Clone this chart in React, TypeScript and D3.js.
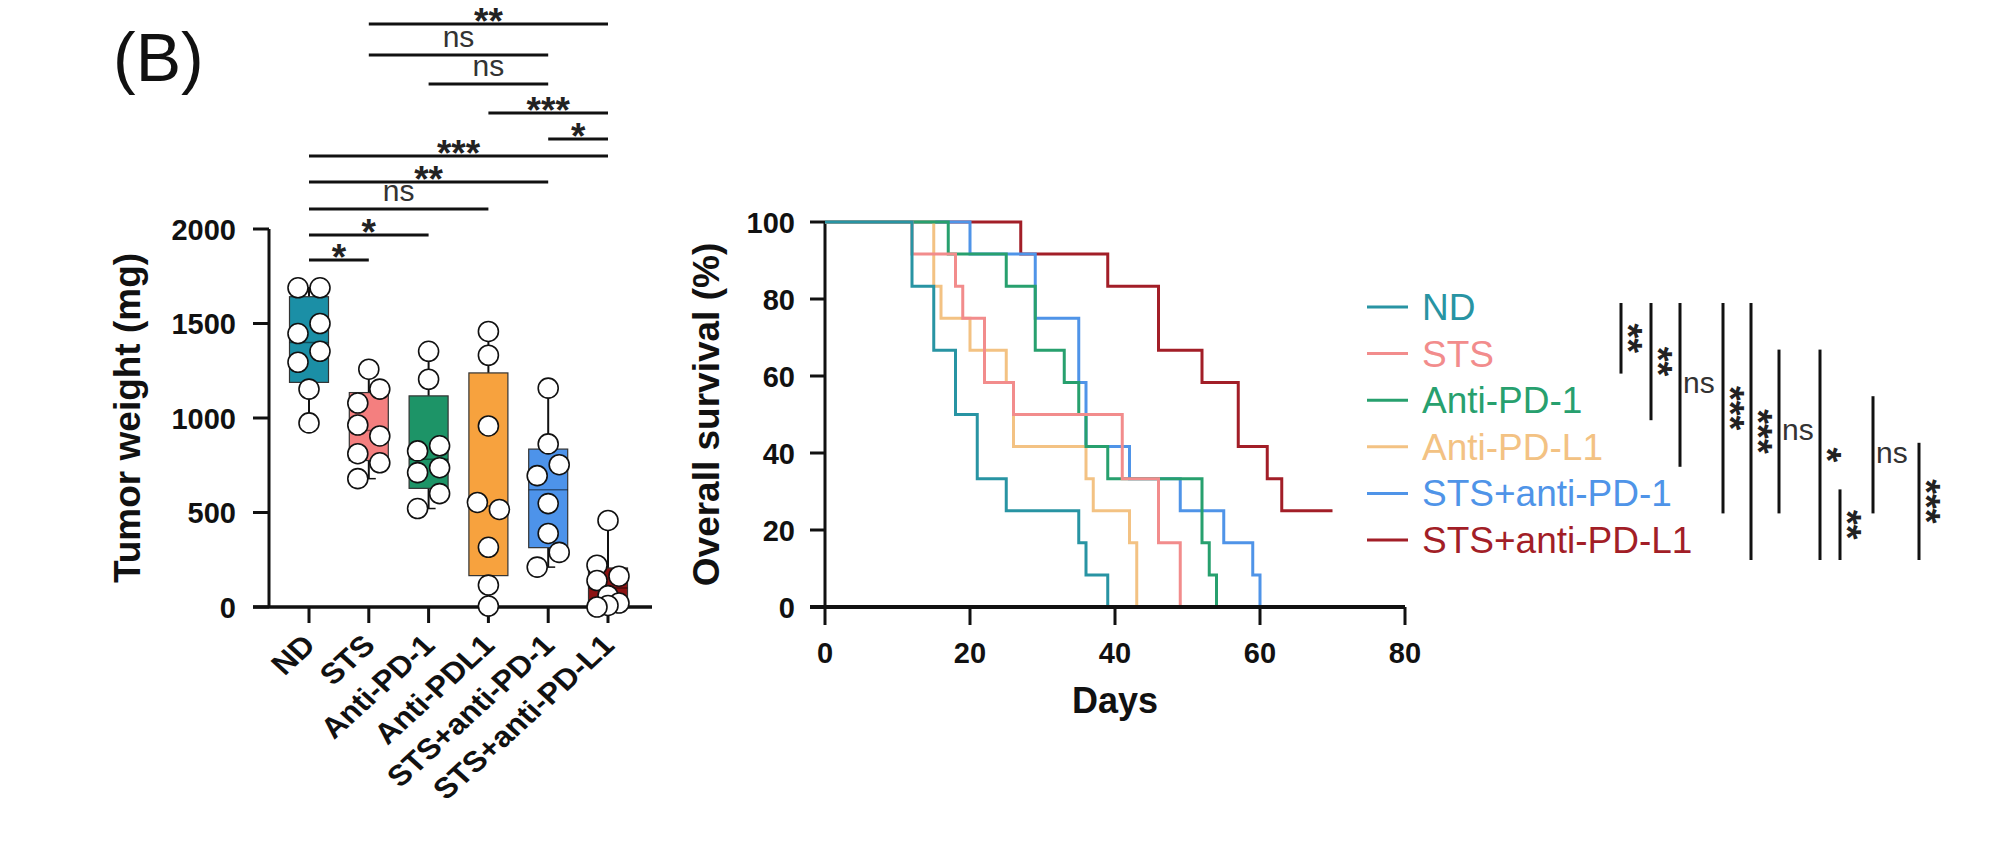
import * as d3 from 'd3'

const FONT = '"Liberation Sans", Arial, Helvetica, sans-serif'

// ---------- tumour weight panel ----------
const groups = ['ND', 'STS', 'Anti-PD-1', 'Anti-PDL1', 'STS+anti-PD-1', 'STS+anti-PD-L1']
const boxColors = ['#1b8fa6', '#f47f7f', '#1d9467', '#f7a23e', '#4d93ea', '#8c1313']

// tumour weight per mouse (mg)
const wND = [1689, 1689, 1500, 1447, 1353, 1295, 1153, 974]
const wSTS = [1258, 1153, 1079, 963, 905, 811, 763, 679]
const wPD1 = [1353, 1205, 853, 826, 737, 711, 600, 521]
const wPDL1 = [1458, 1332, 958, 553, 516, 316, 116, 5]
const wSTSPD1 = [1158, 863, 753, 695, 547, 389, 289, 211]
const wSTSPDL1 = [458, 221, 163, 140, 60, 21, 8, 0]
const weights = [wND, wSTS, wPD1, wPDL1, wSTSPD1, wSTSPDL1]

// which side of the box each dot was put on (-1 left, 0 centre, 1 right)
const dotSides = [
  [-1, 1, 1, -1, 1, -1, 0, 0],
  [0, 1, -1, -1, 1, -1, 1, -1],
  [0, 0, 1, -1, 1, -1, 1, -1],
  [0, 0, 0, -1, 1, 0, 0, 0],
  [0, 0, 1, -1, 0, 0, 1, -1],
  [0, -1, 1, -1, 0, 1, 0, -1],
]

const weightTicks = [0, 500, 1000, 1500, 2000]

// pairwise comparisons drawn above the boxes, top to bottom
const weightTests: [number, number, string][] = [
  [1, 5, '**'], [1, 4, 'ns'], [2, 4, 'ns'], [3, 5, '***'], [4, 5, '*'],
  [0, 5, '***'], [0, 4, '**'], [0, 3, 'ns'], [0, 2, '*'], [0, 1, '*'],
]
const weightTestY = [24, 55, 84, 113, 139, 156, 182, 209, 235, 260]

// ---------- survival panel ----------
const survNames = ['ND', 'STS', 'Anti-PD-1', 'Anti-PD-L1', 'STS+anti-PD-1', 'STS+anti-PD-L1']
const survColors = ['#2894a3', '#f28c8c', '#27a06e', '#f3c283', '#4f94e8', '#a21e27']

const ndDays = [0, 12, 15, 18, 21, 25, 35, 36, 39]
const ndSurv = [100, 83.3, 66.7, 50, 33.3, 25, 16.7, 8.3, 0]
const stsDays = [0, 12, 18, 19, 22, 26, 41, 46, 49]
const stsSurv = [100, 91.7, 83.3, 75, 58.3, 50, 33.3, 16.7, 0]
const pd1Days = [0, 17, 25, 29, 33, 35, 36, 39, 52, 53, 54]
const pd1Surv = [100, 91.7, 83.3, 66.7, 58.3, 50, 41.7, 33.3, 16.7, 8.3, 0]
const pdl1Days = [0, 15, 16, 20, 25, 26, 36, 37, 42, 43]
const pdl1Surv = [100, 83.3, 75, 66.7, 58.3, 41.7, 33.3, 25, 16.7, 0]
const stsPd1Days = [0, 20, 29, 35, 36, 42, 49, 55, 59, 60]
const stsPd1Surv = [100, 91.7, 75, 58.3, 41.7, 33.3, 25, 16.7, 8.3, 0]
const stsPdl1Days = [0, 27, 39, 46, 52, 57, 61, 63, 70]
const stsPdl1Surv = [100, 91.7, 83.3, 66.7, 58.3, 41.7, 33.3, 25, 25]

const survDays = [ndDays, stsDays, pd1Days, pdl1Days, stsPd1Days, stsPdl1Days]
const survVals = [ndSurv, stsSurv, pd1Surv, pdl1Surv, stsPd1Surv, stsPdl1Surv]

const dayTicks = [0, 20, 40, 60, 80]
const survTicks = [0, 20, 40, 60, 80, 100]

// log-rank comparisons, as brackets beside the legend
const survTests: [number, number, string][] = [
  [0, 1, '**'], [0, 2, '**'], [0, 3, 'ns'], [0, 4, '***'], [0, 5, '***'],
  [1, 4, 'ns'], [1, 5, '*'], [4, 5, '**'], [2, 4, 'ns'], [3, 5, '***'],
]
const survTestX = [1621, 1651, 1680, 1723, 1751, 1779, 1820, 1840, 1873, 1919]

// Prism-style quantile, (n+1)p
function quantile(sorted: number[], p: number) {
  const h = (sorted.length + 1) * p - 1
  const lo = Math.max(0, Math.min(sorted.length - 1, Math.floor(h)))
  const hi = Math.min(sorted.length - 1, lo + 1)
  return sorted[lo] + (h - lo) * (sorted[hi] - sorted[lo])
}

function Stars({ x, y, text, vertical }: { x: number; y: number; text: string; vertical?: boolean }) {
  if (text === 'ns') {
    return vertical ? (
      <text x={x + 3} y={y + 8} fontSize={30} fill="#333">ns</text>
    ) : (
      <text x={x} y={y - 8} fontSize={30} fill="#333" textAnchor="middle">ns</text>
    )
  }
  // the asterisk sits high in the em box, so the baseline goes left of / below the line
  return vertical ? (
    <text transform={`translate(${x - 19},${y}) rotate(90)`} fontSize={38} fontWeight="bold" fill="#222" textAnchor="middle">{text}</text>
  ) : (
    <text x={x} y={y + 10} fontSize={37} fontWeight="bold" fill="#222" textAnchor="middle">{text}</text>
  )
}

export default function App() {
  // tumour weight scales
  const xw = d3.scalePoint<string>().domain(groups).range([309, 608])
  const yw = d3.scaleLinear().domain([0, 2000]).range([607, 229])
  const boxHalf = 19.5
  const r = 10

  // survival scales
  const xs = d3.scaleLinear().domain([0, 80]).range([825, 1405])
  const ys = d3.scaleLinear().domain([0, 100]).range([607, 222])
  const km = d3.line<[number, number]>().x(d => xs(d[0])).y(d => ys(d[1])).curve(d3.curveStepAfter)

  const legendY = (i: number) => 307 + i * 46.6

  return (
    <svg width={2013} height={845} style={{ position: 'absolute', left: 0, top: 0, background: '#fff' }} fontFamily={FONT}>
      <text x={113} y={81} fontSize={68} fill="#111">(B)</text>

      {/* ---- tumour weight ---- */}
      <line x1={269} x2={269} y1={yw(2000)} y2={yw(0)} stroke="#111" strokeWidth={3} />
      {weightTicks.map(t => (
        <g key={t}>
          <line x1={253} x2={269} y1={yw(t)} y2={yw(t)} stroke="#111" strokeWidth={3} />
          <text x={236} y={yw(t) + 10.5} fontSize={29} fontWeight="bold" textAnchor="end" fill="#111">{t}</text>
        </g>
      ))}
      <line x1={253} x2={652} y1={yw(0)} y2={yw(0)} stroke="#111" strokeWidth={3.5} />
      {groups.map(g => (
        <g key={g}>
          <line x1={xw(g)} x2={xw(g)} y1={yw(0)} y2={623} stroke="#111" strokeWidth={3} />
          <text transform={`translate(${xw(g)! + 8},${647}) scale(1.1,1) rotate(-45)`} fontSize={29} fontWeight="bold" textAnchor="end" fill="#111">{g}</text>
        </g>
      ))}
      <text transform={`translate(140,${(yw(0) + yw(2000)) / 2}) rotate(-90)`} fontSize={37} fontWeight="bold" textAnchor="middle" fill="#111">Tumor weight (mg)</text>

      {weights.map((vals, gi) => {
        const cx = xw(groups[gi])!
        const sorted = [...vals].sort((a, b) => a - b)
        const q1 = quantile(sorted, 0.25)
        const med = quantile(sorted, 0.5)
        const q3 = quantile(sorted, 0.75)
        const lo = sorted[0]
        const hi = sorted[sorted.length - 1]
        return (
          <g key={gi}>
            <line x1={cx} x2={cx} y1={yw(hi)} y2={yw(q3)} stroke="#111" strokeWidth={2} />
            <line x1={cx} x2={cx} y1={yw(q1)} y2={yw(lo)} stroke="#111" strokeWidth={2} />
            <line x1={cx - 7} x2={cx + 7} y1={yw(hi)} y2={yw(hi)} stroke="#111" strokeWidth={1.5} />
            <line x1={cx - 7} x2={cx + 7} y1={yw(lo)} y2={yw(lo)} stroke="#111" strokeWidth={1.5} />
            <rect x={cx - boxHalf} y={yw(q3)} width={boxHalf * 2} height={yw(q1) - yw(q3)} fill={boxColors[gi]} stroke="#333" strokeWidth={1.2} />
            <line x1={cx - boxHalf} x2={cx + boxHalf} y1={yw(med)} y2={yw(med)} stroke="#000" strokeOpacity={0.45} strokeWidth={1.5} />
          </g>
        )
      })}
      {weights.map((vals, gi) =>
        vals.map((v, k) => (
          <circle key={`${gi}-${k}`} cx={xw(groups[gi])! + dotSides[gi][k] * 11} cy={yw(v)} r={r} fill="#fff" stroke="#111" strokeWidth={1.6} />
        ))
      )}

      {weightTests.map(([a, b, label], i) => {
        const x1 = xw(groups[a])!
        const x2 = xw(groups[b])!
        const y = weightTestY[i]
        return (
          <g key={i}>
            <line x1={x1} x2={x2} y1={y} y2={y} stroke="#111" strokeWidth={3} />
            <Stars x={(x1 + x2) / 2} y={y} text={label} />
          </g>
        )
      })}

      {/* ---- survival ---- */}
      <line x1={825} x2={825} y1={ys(100)} y2={ys(0)} stroke="#111" strokeWidth={3} />
      {survTicks.map(t => (
        <g key={t}>
          <line x1={810} x2={825} y1={ys(t)} y2={ys(t)} stroke="#111" strokeWidth={3} />
          <text x={795} y={ys(t) + 10.5} fontSize={29} fontWeight="bold" textAnchor="end" fill="#111">{t}</text>
        </g>
      ))}
      {dayTicks.map(t => (
        <g key={t}>
          <line x1={xs(t)} x2={xs(t)} y1={ys(0)} y2={625} stroke="#111" strokeWidth={3} />
          <text x={xs(t)} y={663} fontSize={29} fontWeight="bold" textAnchor="middle" fill="#111">{t}</text>
        </g>
      ))}
      <text x={(xs(0) + xs(80)) / 2} y={713} fontSize={36} fontWeight="bold" textAnchor="middle" fill="#111">Days</text>
      <text transform={`translate(719,${(ys(0) + ys(100)) / 2}) rotate(-90)`} fontSize={37} fontWeight="bold" textAnchor="middle" fill="#111">Overall survival (%)</text>

      {survDays.map((_, i) => survDays.length - 1 - i).map(i => (
        <path key={i} d={km(survDays[i].map((d, k) => [d, survVals[i][k]] as [number, number])) ?? ''} fill="none" stroke={survColors[i]} strokeWidth={3} />
      ))}
      <line x1={810} x2={1405} y1={ys(0)} y2={ys(0)} stroke="#111" strokeWidth={4} />

      {survNames.map((n, i) => (
        <g key={n}>
          <line x1={1367} x2={1408} y1={legendY(i)} y2={legendY(i)} stroke={survColors[i]} strokeWidth={3} />
          <text x={1422} y={legendY(i) + 13} fontSize={37} fill={survColors[i]}>{n}</text>
        </g>
      ))}

      {survTests.map(([a, b, label], i) => {
        const x = survTestX[i]
        const y1 = legendY(a) - 4
        const y2 = legendY(b) + 20
        return (
          <g key={i}>
            <line x1={x} x2={x} y1={y1} y2={y2} stroke="#111" strokeWidth={3} />
            <Stars x={label === 'ns' ? x : x + 13} y={(y1 + y2) / 2} text={label} vertical />
          </g>
        )
      })}
    </svg>
  )
}
